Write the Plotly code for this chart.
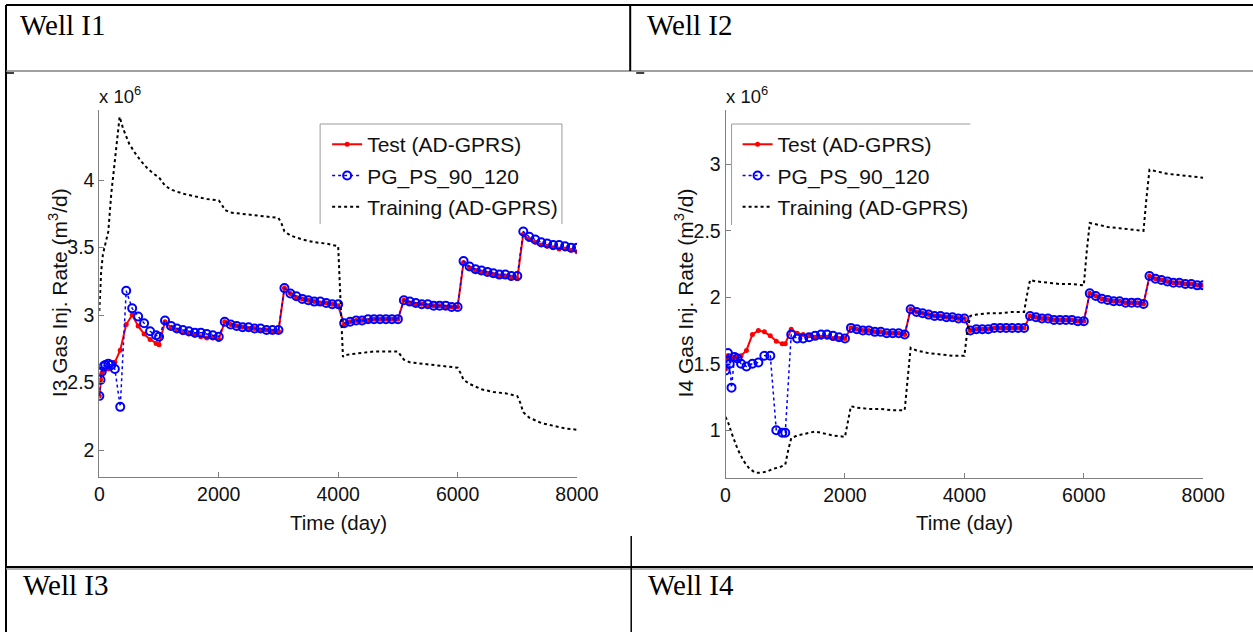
import plotly.graph_objects as go

# ---------------- data ----------------
time_early = [0, 20, 40, 70, 100, 150, 200, 260, 350, 450, 550, 650, 750, 850, 950, 1000]
time_late = list(range(1100, 8001, 100))
time_days = time_early + time_late

i3_test = [2.40, 2.52, 2.57, 2.59, 2.60, 2.60, 2.61, 2.65, 2.74, 2.93, 3.00, 2.92, 2.86, 2.82, 2.79, 2.78,
           2.95, 2.91, 2.89, 2.87, 2.86, 2.85, 2.84, 2.83, 2.83, 2.82,
           2.95, 2.93, 2.92, 2.91, 2.90, 2.90, 2.89, 2.89, 2.88, 2.88,
           3.20, 3.16, 3.13, 3.12, 3.11, 3.10, 3.09, 3.09, 3.08, 3.07,
           2.93, 2.95, 2.96, 2.96, 2.96, 2.97, 2.97, 2.97, 2.97, 2.97,
           3.11, 3.09, 3.08, 3.08, 3.07, 3.07, 3.07, 3.06, 3.06, 3.06,
           3.39, 3.35, 3.33, 3.32, 3.31, 3.30, 3.29, 3.29, 3.28, 3.27,
           3.60, 3.56, 3.54, 3.52, 3.51, 3.50, 3.49, 3.49, 3.48, 3.47]
i3_pg = [2.40, 2.52, 2.58, 2.62, 2.63, 2.64, 2.63, 2.60, 2.32, 3.18, 3.05, 2.99, 2.94, 2.88, 2.85, 2.84,
         2.96, 2.92, 2.90, 2.89, 2.88, 2.87, 2.87, 2.86, 2.85, 2.84,
         2.95, 2.93, 2.92, 2.91, 2.91, 2.90, 2.90, 2.89, 2.89, 2.89,
         3.20, 3.16, 3.14, 3.12, 3.11, 3.10, 3.10, 3.09, 3.08, 3.08,
         2.94, 2.95, 2.96, 2.96, 2.97, 2.97, 2.97, 2.97, 2.97, 2.97,
         3.11, 3.10, 3.09, 3.08, 3.08, 3.07, 3.07, 3.07, 3.06, 3.06,
         3.40, 3.36, 3.34, 3.33, 3.32, 3.31, 3.30, 3.30, 3.29, 3.29,
         3.62, 3.58, 3.56, 3.54, 3.53, 3.52, 3.52, 3.51, 3.50, 3.50]

i3_train_t = [0, 30, 60, 100, 150, 200, 250, 300, 340, 400, 500, 600, 700, 800, 900, 1000,
              1050, 1100, 1200, 1400, 1600, 1800, 2000, 2050, 2100, 2200, 2400, 2600, 2800, 3000,
              3050, 3100, 3200, 3400, 3600, 3800, 4000, 4080, 4100, 4200, 4400, 4600, 4800, 5000,
              5050, 5100, 5200, 5400, 5600, 5800, 6000, 6050, 6100, 6200, 6400, 6600, 6800, 7000,
              7050, 7100, 7200, 7400, 7600, 7800, 8000]
i3_train = [3.03, 3.32, 3.45, 3.52, 3.62, 3.90, 4.12, 4.32, 4.47, 4.38, 4.27, 4.20, 4.14, 4.09, 4.05, 4.02,
            3.99, 3.96, 3.93, 3.90, 3.88, 3.86, 3.85, 3.82, 3.78, 3.76, 3.75, 3.74, 3.73, 3.72,
            3.68, 3.62, 3.59, 3.56, 3.54, 3.53, 3.51, 2.69, 2.70, 2.71, 2.72, 2.73, 2.73, 2.73,
            2.70, 2.67, 2.65, 2.64, 2.63, 2.62, 2.61, 2.57, 2.52, 2.49, 2.45, 2.43, 2.42, 2.40,
            2.35, 2.28, 2.24, 2.20, 2.18, 2.16, 2.15]

i4_test = [1.46, 1.55, 1.56, 1.56, 1.55, 1.55, 1.54, 1.56, 1.60, 1.72, 1.75, 1.74, 1.71, 1.67, 1.65, 1.65,
           1.76, 1.73, 1.72, 1.71, 1.70, 1.70, 1.70, 1.69, 1.69, 1.69,
           1.77, 1.76, 1.75, 1.75, 1.74, 1.74, 1.73, 1.73, 1.73, 1.72,
           1.91, 1.89, 1.88, 1.87, 1.86, 1.86, 1.85, 1.85, 1.84, 1.84,
           1.75, 1.76, 1.76, 1.76, 1.77, 1.77, 1.77, 1.77, 1.77, 1.77,
           1.86, 1.85, 1.84, 1.84, 1.83, 1.83, 1.83, 1.83, 1.82, 1.82,
           2.03, 2.01, 1.99, 1.98, 1.97, 1.97, 1.96, 1.96, 1.96, 1.95,
           2.16, 2.14, 2.13, 2.12, 2.11, 2.11, 2.10, 2.10, 2.09, 2.09]
i4_pg = [1.45, 1.52, 1.58, 1.50, 1.32, 1.55, 1.54, 1.50, 1.48, 1.50, 1.51, 1.56, 1.56, 1.00, 0.98, 0.98,
         1.72, 1.69, 1.69, 1.70, 1.71, 1.72, 1.72, 1.71, 1.70, 1.69,
         1.77, 1.76, 1.75, 1.75, 1.74, 1.74, 1.73, 1.73, 1.73, 1.72,
         1.91, 1.89, 1.88, 1.87, 1.86, 1.86, 1.85, 1.85, 1.84, 1.84,
         1.75, 1.76, 1.76, 1.76, 1.77, 1.77, 1.77, 1.77, 1.77, 1.77,
         1.86, 1.85, 1.84, 1.84, 1.83, 1.83, 1.83, 1.83, 1.82, 1.82,
         2.03, 2.01, 1.99, 1.98, 1.97, 1.97, 1.96, 1.96, 1.96, 1.95,
         2.16, 2.14, 2.13, 2.12, 2.11, 2.11, 2.10, 2.10, 2.09, 2.09]

i4_train_t = [0, 50, 100, 200, 300, 400, 500, 600, 700, 800, 900, 1000,
              1050, 1100, 1200, 1400, 1500, 1600, 1800, 2000, 2050, 2100, 2200, 2400, 2600, 2800, 3000,
              3050, 3100, 3200, 3400, 3600, 3800, 4000, 4050, 4100, 4200, 4400, 4600, 4800, 5000,
              5050, 5100, 5200, 5400, 5600, 5800, 6000, 6050, 6100, 6200, 6400, 6600, 6800, 7000,
              7050, 7100, 7200, 7400, 7600, 7800, 8000]
i4_train = [1.10, 1.05, 0.98, 0.86, 0.77, 0.71, 0.68, 0.68, 0.69, 0.71, 0.72, 0.74,
            0.85, 0.94, 0.96, 0.98, 0.99, 0.98, 0.96, 0.95, 1.08, 1.18, 1.17, 1.16, 1.16, 1.15, 1.15,
            1.40, 1.62, 1.60, 1.58, 1.57, 1.56, 1.56, 1.75, 1.86, 1.87, 1.88, 1.88, 1.89, 1.89,
            2.02, 2.13, 2.12, 2.11, 2.10, 2.10, 2.09, 2.35, 2.56, 2.55, 2.53, 2.52, 2.51, 2.50,
            2.75, 2.96, 2.95, 2.93, 2.92, 2.91, 2.90]

series_names = ["Test (AD-GPRS)", "PG_PS_90_120", "Training (AD-GPRS)"]
x_ticks = [0, 2000, 4000, 6000, 8000]
i3_ticks = [2, 2.5, 3, 3.5, 4]
i4_ticks = [1, 1.5, 2, 2.5, 3]
cell_titles = ["Well I1", "Well I2", "Well I3", "Well I4"]

# ---------------- helpers ----------------
W, H = 1253, 632
# horizontal placement: target pixel -> paper fraction (the photographed page shows the
# figure slightly inset/condensed horizontally, so positions are mapped accordingly)
X_OFF, X_SCALE = 8.0, 0.975
def fx(p):
    return (p - X_OFF) / (W * X_SCALE)
def fy(p):
    return 1 - p / H

SANS = "Liberation Sans, Arial, sans-serif"
SERIF = "Liberation Serif, Times New Roman, serif"
AX_GRAY = "#7f7f7f"
TXT = "#111111"

fig = go.Figure()

def add_panel(xa, ya, legend, test, pg, tt, tr):
    fig.add_trace(go.Scatter(
        x=time_days, y=test, name=series_names[0], mode="lines+markers",
        line=dict(color="#ff0000", width=2), marker=dict(color="#ff0000", size=5, symbol="circle"),
        xaxis=xa, yaxis=ya, legend=legend, legendgroup=legend + "a"))
    fig.add_trace(go.Scatter(
        x=time_days, y=pg, name=series_names[1], mode="lines+markers",
        line=dict(color="#0000ff", width=1.5, dash="dot"),
        marker=dict(color="#0000ff", size=8, symbol="circle-open", line=dict(width=2, color="#0000ff")),
        xaxis=xa, yaxis=ya, legend=legend, legendgroup=legend + "b"))
    fig.add_trace(go.Scatter(
        x=tt, y=tr, name=series_names[2], mode="lines",
        line=dict(color="#000000", width=2, dash="dot"),
        xaxis=xa, yaxis=ya, legend=legend, legendgroup=legend + "c"))

add_panel("x", "y", "legend", i3_test, i3_pg, i3_train_t, i3_train)
add_panel("x2", "y2", "legend2", i4_test, i4_pg, i4_train_t, i4_train)

axis_common = dict(showline=True, linecolor=AX_GRAY, linewidth=1, ticks="inside", ticklen=5,
                   tickcolor=AX_GRAY, showgrid=False, zeroline=False, mirror=False,
                   tickfont=dict(family=SANS, size=19.5, color=TXT))

legend_common = dict(xanchor="left", yanchor="top", bgcolor="rgba(255,255,255,0)", borderwidth=0,
                     font=dict(family=SANS, size=21, color=TXT), tracegroupgap=1, itemwidth=30)

fig.update_layout(
    width=W, height=H, margin=dict(l=0, r=0, t=0, b=0), autosize=False,
    paper_bgcolor="white", plot_bgcolor="white",
    xaxis=dict(domain=[fx(102), fx(578)], range=[0, 8000], tickvals=x_ticks, anchor="y", **axis_common),
    yaxis=dict(domain=[fy(477), fy(110)], range=[1.8, 4.52], tickvals=i3_ticks,
               ticktext=[f"{v:g}" for v in i3_ticks], anchor="x", **axis_common),
    xaxis2=dict(domain=[fx(726), fx(1202)], range=[0, 8000], tickvals=x_ticks, anchor="y2", **axis_common),
    yaxis2=dict(domain=[fy(478), fy(110)], range=[0.64, 3.41], tickvals=i4_ticks,
                ticktext=[f"{v:g}" for v in i4_ticks], anchor="x2", **axis_common),
    legend=dict(x=fx(329), y=fy(124), **legend_common),
    legend2=dict(x=fx(738), y=fy(124), **legend_common),
    showlegend=True,
)

def note(xp, yp, text, size, family=SANS, xanchor="center", angle=0):
    fig.add_annotation(x=fx(xp), y=fy(yp), xref="paper", yref="paper", text=text, showarrow=False,
                       xanchor=xanchor, yanchor="middle", textangle=angle,
                       font=dict(family=family, size=size, color=TXT if family == SANS else "#000000"))

# axis titles and exponent labels
note(340, 522, "Time (day)", 20.5)
note(964, 522, "Time (day)", 20.5)
note(61, 293, "I3 Gas Inj. Rate (m<sup>3</sup>/d)", 21, angle=-90)
note(685, 293, "I4 Gas Inj. Rate (m<sup>3</sup>/d)", 21, angle=-90)
note(100, 95, "x 10<sup>6</sup>", 18.5, xanchor="left")
note(724, 95, "x 10<sup>6</sup>", 18.5, xanchor="left")

# legend partial borders (as in the source image)
def seg(x0, y0, x1, y1, color, width):
    fig.add_shape(type="line", xref="paper", yref="paper", x0=fx(x0), y0=fy(y0), x1=fx(x1), y1=fy(y1),
                  line=dict(color=color, width=width))

seg(322, 124, 563, 124, "#9a9a9a", 1)
seg(322, 124, 322, 224, "#9a9a9a", 1)
seg(563, 124, 563, 224, "#9a9a9a", 1)
seg(732, 124, 970, 124, "#9a9a9a", 1)
seg(732, 124, 732, 225, "#9a9a9a", 1)

# table lines
LEFT = 9
seg(LEFT, 5, 1262, 5, "#000000", 2)
seg(LEFT, 5, LEFT, 632, "#000000", 2)
seg(LEFT, 71, 1262, 71, "#808080", 1.5)
seg(631, 5, 631, 71, "#000000", 2)
seg(LEFT, 73, 17, 73, "#000000", 1.5)
seg(637, 73, 645, 73, "#000000", 1.5)
seg(LEFT, 567, 1262, 567, "#000000", 2)
seg(LEFT, 569, 1262, 569, "#9a9a9a", 1.5)
seg(632, 536, 632, 632, "#000000", 1.5)

for (xl, yc), txt in zip([(21, 25), (646, 25), (24, 585), (647, 585)], cell_titles):
    note(xl, yc, txt, 29, family=SERIF, xanchor="left")

fig.write_html("out.html")
